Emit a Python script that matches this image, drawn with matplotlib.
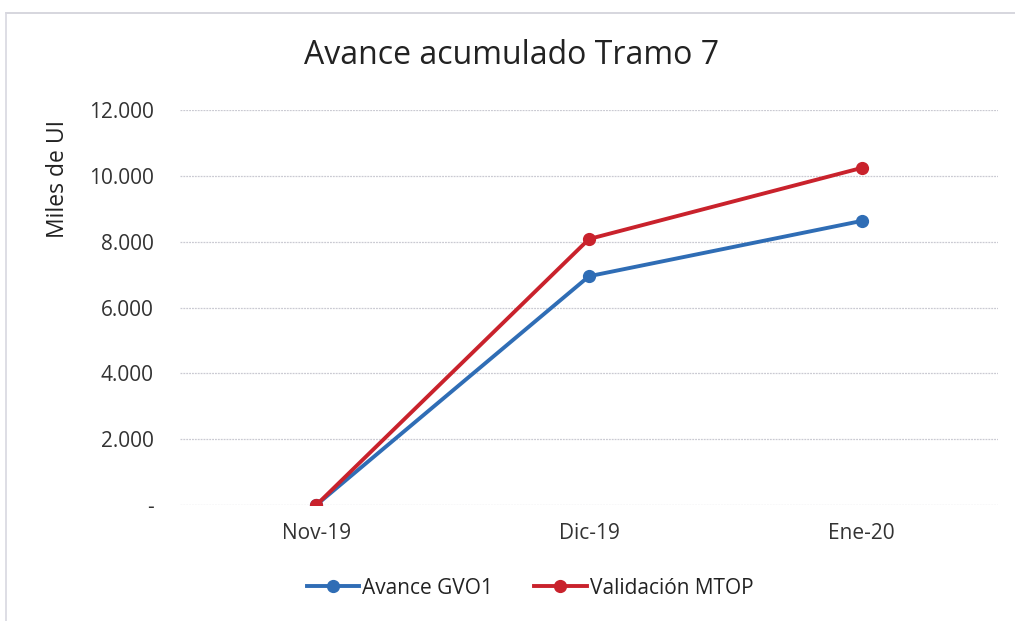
import matplotlib
matplotlib.use("Agg")
import matplotlib.pyplot as plt
from matplotlib.ticker import FuncFormatter
from matplotlib.lines import Line2D

categories = ["Nov-19", "Dic-19", "Ene-20"]
avance_gvo1 = [0, 6950, 8630]
validacion_mtop = [0, 8080, 10240]
y_ticks = [0, 2000, 4000, 6000, 8000, 10000, 12000]

plt.rcParams['font.family'] = ['Open Sans', 'DejaVu Sans']

fig = plt.figure(figsize=(10.15, 6.21), dpi=100)
ax = fig.add_axes([180/1015, 1-505/621, (998-180)/1015, (505-110)/621])

x = list(range(len(categories)))
ax.plot(x, avance_gvo1, color="#2f6db5", lw=2.8, marker="o", ms=8.5, label="Avance GVO1", zorder=3)
ax.plot(x, validacion_mtop, color="#c9222c", lw=2.8, marker="o", ms=8.5, label="Validación MTOP", zorder=4)

ax.set_xlim(-0.5, 2.5)
ax.set_ylim(0, 12000)
ax.set_xticks(x)
ax.set_xticklabels(categories)
ax.set_yticks(y_ticks)

def fmt(v, pos):
    if v == 0:
        return "-"
    return f"{int(v):,}".replace(",", ".")
ax.yaxis.set_major_formatter(FuncFormatter(fmt))

ax.grid(axis="y", color="#cacad2", lw=0.9, linestyle=(0, (1.5, 0.8)))
ax.set_axisbelow(True)
for s in ax.spines.values():
    s.set_visible(False)
ax.tick_params(axis="both", length=0, labelsize=15, colors="#333333")
ax.tick_params(axis="y", pad=19)
ax.tick_params(axis="x", pad=13)

ax.set_ylabel("Miles de UI", fontsize=16.5, color="#222222")
ax.yaxis.set_label_coords(-(180-70)/818, 0.825)

fig.text(512/1015, 1-55/621, "Avance acumulado Tramo 7", ha="center", va="center", fontsize=23, color="#222222")

leg = fig.legend(loc="center", bbox_to_anchor=(530/1015, 1-588/621), ncol=2, frameon=False,
                 fontsize=15, handlelength=2.5, columnspacing=2.0, handletextpad=0.15)
for t in leg.get_texts():
    t.set_color("#222222")

# faint scanned frame
fig.add_artist(Line2D([6/1015, 1], [1-13/621, 1-13/621], color="#d0d0d8", lw=1.2, transform=fig.transFigure))
fig.add_artist(Line2D([6/1015, 6/1015], [0, 1-13/621], color="#d8d8e0", lw=1.2, transform=fig.transFigure))

fig.savefig("out.png", dpi=100, facecolor="white")
